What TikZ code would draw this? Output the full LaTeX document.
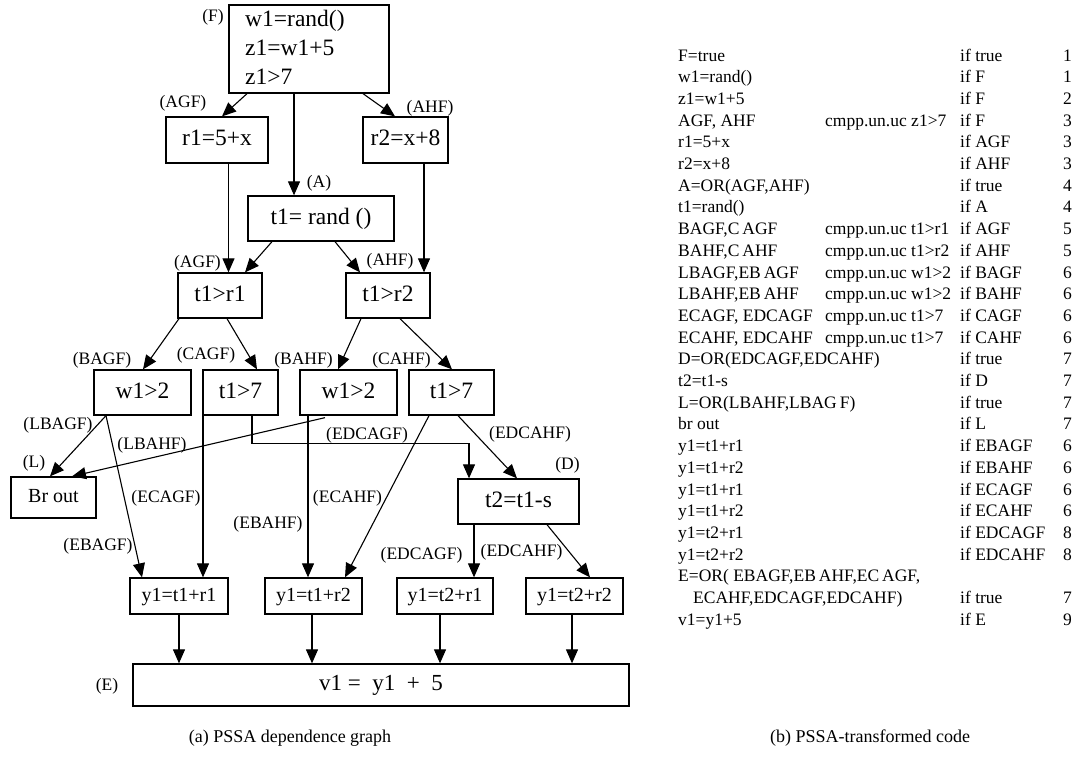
\documentclass[tikz,border=0pt]{standalone}
\usepackage{fontspec}
\setmainfont{Liberation Serif}
\usetikzlibrary{arrows.meta}

\begin{document}
\begin{tikzpicture}[x=1pt,y=-1pt,
  box/.style={draw, line width=1.3pt, inner sep=0pt,
    font=\fontsize{23.5}{28}\selectfont, text height=16pt, text depth=5pt},
  smallbox/.style={box, font=\fontsize{20}{24}\selectfont, text height=14pt, text depth=4pt},
  lbl/.style={inner sep=0pt, font=\fontsize{17.5}{21}\selectfont},
  dep/.style={line width=1.1pt, -{Triangle[length=14pt,width=12pt]}},
  codetxt/.style={inner sep=0pt, anchor=base west, font=\fontsize{17.5}{21}\selectfont},
  capt/.style={inner sep=0pt, font=\fontsize{18}{22}\selectfont}]

\useasboundingbox (0,0) rectangle (1075,779);

% ---------- dependence graph: nodes ----------
\node[box, minimum width=160pt, minimum height=88pt] (F) at (309,49) {};
\node[inner sep=0pt, anchor=west, align=left, font=\fontsize{23.5}{29}\selectfont]
  (Ftext) at (245,47) {w1=rand()\\z1=w1+5\\z1>7};

\node[box, minimum width=102pt, minimum height=46pt] (r1) at (217,140) {r1=5+x};
\node[box, minimum width=85pt,  minimum height=46pt] (r2) at (405.5,140) {r2=x+8};
\node[box, minimum width=146pt, minimum height=45pt] (t1) at (321,218.5) {t1= rand ()\hspace{11pt}};

\node[box, minimum width=84pt, minimum height=45pt] (tr1) at (220,295.5) {t1>r1};
\node[box, minimum width=84pt, minimum height=45pt] (tr2) at (388,295.5) {t1>r2};

\node[box, minimum width=97pt, minimum height=45pt] (wa) at (142.5,392.5) {w1>2};
\node[box, minimum width=75pt, minimum height=45pt] (ta) at (240.5,392.5) {t1>7};
\node[box, minimum width=97pt, minimum height=45pt] (wb) at (348.5,392.5) {w1>2};
\node[box, minimum width=85pt, minimum height=45pt] (tb) at (451.5,392.5) {t1>7};

\node[smallbox, minimum width=85pt, minimum height=41pt] (br) at (53.5,497.5) {Br out};
\node[box, minimum width=121pt, minimum height=45pt] (t2) at (518.5,501.5) {t2=t1-s\hspace{21pt}};

\node[smallbox, minimum width=98pt, minimum height=36pt] (ya) at (179,596) {y1=t1+r1};
\node[smallbox, minimum width=97pt, minimum height=36pt] (yb) at (313.5,596) {y1=t1+r2};
\node[smallbox, minimum width=96pt, minimum height=36pt] (yc) at (445,596) {y1=t2+r1};
\node[smallbox, minimum width=97pt, minimum height=36pt] (yd) at (574.5,596) {y1=t2+r2};

\node[box, font=\fontsize{23}{28}\selectfont, minimum width=496pt, minimum height=42pt]
  (v1) at (381,685) {v1 =\ \ y1 \ +\ \ 5};

% ---------- dependence graph: edges ----------
\draw[dep] ([xshift=-62pt]F.south) -- ([xshift=5pt]r1.north);
\draw[dep] ([xshift=-15pt]F.south) -- ([xshift=-27pt]t1.north);
\draw[dep] ([xshift=54pt]F.south) -- ([xshift=-10.5pt]r2.north);

\draw[dep] ([xshift=11.5pt]r1.south) -- ([xshift=8.5pt]tr1.north);
\draw[dep] ([xshift=-49pt]t1.south) -- ([xshift=25pt]tr1.north);
\draw[dep] ([xshift=18.5pt]r2.south) -- ([xshift=36pt]tr2.north);
\draw[dep] ([xshift=14pt]t1.south) -- ([xshift=-28pt]tr2.north);

\draw[dep] ([xshift=-41pt]tr1.south) -- ([xshift=0.5pt]wa.north);
\draw[dep] ([xshift=7pt]tr1.south) -- ([xshift=16.5pt]ta.north);
\draw[dep] ([xshift=-27pt]tr2.south) -- ([xshift=-10.5pt]wb.north);
\draw[dep] ([xshift=12pt]tr2.south) -- ([xshift=0.5pt]tb.north);

\draw[dep] ([xshift=-36.5pt]wa.south) -- ([xshift=-3.5pt]br.north);
\draw[dep] ([xshift=-36.5pt]wa.south) -- ([xshift=-37pt]ya.north);
\draw[dep] ([xshift=-23.5pt,yshift=-2pt]wb.south) -- ([xshift=18.5pt]br.north);
\draw[dep] ([xshift=-37.5pt]ta.south) -- ([xshift=24pt]ya.north);
\draw[dep] ([xshift=11.5pt]ta.south) -- ++(0,28) -| ([xshift=-49.5pt]t2.north);
\draw[dep] ([xshift=-40.5pt]wb.south) -- ([xshift=-5.5pt]yb.north);
\draw[dep] ([xshift=-22.5pt]tb.south) -- ([xshift=31.5pt]yb.north);
\draw[dep] ([xshift=6.5pt]tb.south) -- ([xshift=-1.5pt]t2.north);

\draw[dep] ([xshift=-44.5pt]t2.south) -- ([xshift=29pt]yc.north);
\draw[dep] ([xshift=28.5pt]t2.south) -- ([xshift=15.5pt]yd.north);

\draw[dep] (ya.south) -- ([xshift=-202pt]v1.north);
\draw[dep] ([xshift=-1.5pt]yb.south) -- ([xshift=-69pt]v1.north);
\draw[dep] ([xshift=-5pt]yc.south) -- ([xshift=59pt]v1.north);
\draw[dep] ([xshift=-2.5pt]yd.south) -- ([xshift=191pt]v1.north);

% ---------- predicate labels ----------
\node[lbl] (lF)      at (213,17)    {(F)};
\node[lbl] (lAGF1)   at (183,103)   {(AGF)};
\node[lbl] (lAHF1)   at (430,108)   {(AHF)};
\node[lbl] (lA)      at (319,183)   {(A)};
\node[lbl] (lAGF2)   at (197.5,263) {(AGF)};
\node[lbl] (lAHF2)   at (390,261)   {(AHF)};
\node[lbl] (lBAGF)   at (102,360)   {(BAGF)};
\node[lbl] (lCAGF)   at (206,355)   {(CAGF)};
\node[lbl] (lBAHF)   at (303.5,360) {(BAHF)};
\node[lbl] (lCAHF)   at (401.5,360) {(CAHF)};
\node[lbl] (lLBAGF)  at (58,425)    {(LBAGF)};
\node[lbl] (lL)      at (34,463)    {(L)};
\node[lbl] (lLBAHF)  at (152,445)   {(LBAHF)};
\node[lbl] (lECAGF)  at (166,498)   {(ECAGF)};
\node[lbl] (lEBAGF)  at (98,546)    {(EBAGF)};
\node[lbl] (lEBAHF)  at (268,524)   {(EBAHF)};
\node[lbl] (lEDCAGF1) at (367,435)  {(EDCAGF)};
\node[lbl] (lEDCAHF1) at (530,434)  {(EDCAHF)};
\node[lbl] (lD)      at (567.5,465) {(D)};
\node[lbl] (lECAHF)  at (347.5,498) {(ECAHF)};
\node[lbl] (lEDCAGF2) at (421.5,555) {(EDCAGF)};
\node[lbl] (lEDCAHF2) at (521.5,552) {(EDCAHF)};
\node[lbl] (lE)      at (107,686)   {(E)};

% ---------- transformed code listing ----------
\foreach \i/\t in {0/{F=true}, 1/{w1=rand()}, 2/{z1=w1+5}, 3/{AGF, AHF}, 4/{r1=5+x},
    5/{r2=x+8}, 6/{A=OR(AGF,AHF)}, 7/{t1=rand()}, 8/{BAGF,C\,AGF}, 9/{BAHF,C\,AHF},
    10/{LBAGF,EB\,AGF}, 11/{LBAHF,EB\,AHF}, 12/{ECAGF, EDCAGF}, 13/{ECAHF, EDCAHF},
    14/{D=OR(EDCAGF,EDCAHF)}, 15/{t2=t1-s}, 16/{L=OR(LBAHF,LBAG\,F)}, 17/{br out},
    18/{y1=t1+r1}, 19/{y1=t1+r2}, 20/{y1=t1+r1}, 21/{y1=t1+r2}, 22/{y1=t2+r1},
    23/{y1=t2+r2}, 24/{E=OR( EBAGF,EB\,AHF,EC\,AGF,}, 26/{v1=y1+5}}
  \node[codetxt] (stmt\i) at (678,{61+21.7*\i}) {\t};
\node[codetxt] (stmt25) at (693,{61+21.7*25}) {ECAHF,EDCAGF,EDCAHF)};

\foreach \i/\t in {3/{z1>7}, 8/{t1>r1}, 9/{t1>r2}, 10/{w1>2}, 11/{w1>2}, 12/{t1>7}, 13/{t1>7}}
  \node[codetxt] (cmp\i) at (825,{61+21.7*\i}) {cmpp.un.uc \t};

\foreach \i/\t in {0/true, 1/F, 2/F, 3/F, 4/AGF, 5/AHF, 6/true, 7/A, 8/AGF, 9/AHF,
    10/BAGF, 11/BAHF, 12/CAGF, 13/CAHF, 14/true, 15/D, 16/true, 17/L, 18/EBAGF,
    19/EBAHF, 20/ECAGF, 21/ECAHF, 22/EDCAGF, 23/EDCAHF, 25/true, 26/E}
  \node[codetxt] (grd\i) at (960,{61+21.7*\i}) {if \t};

\foreach \i/\t in {0/1, 1/1, 2/2, 3/3, 4/3, 5/3, 6/4, 7/4, 8/5, 9/5, 10/6, 11/6, 12/6,
    13/6, 14/7, 15/7, 16/7, 17/7, 18/6, 19/6, 20/6, 21/6, 22/8, 23/8, 25/7, 26/9}
  \node[codetxt] (cyc\i) at (1063,{61+21.7*\i}) {\t};

% ---------- captions ----------
\node[capt] (capa) at (290,738) {(a) PSSA dependence graph};
\node[capt] (capb) at (870,738) {(b) PSSA-transformed code};
\end{tikzpicture}
\end{document}
